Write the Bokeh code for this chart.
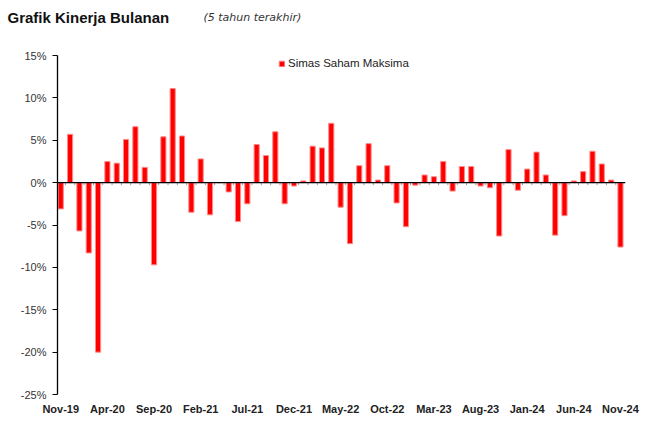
from bokeh.plotting import figure
from bokeh.layouts import column
from bokeh.models import (Range1d, FixedTicker, PrintfTickFormatter, Span,
                          Legend, LegendItem, ColumnDataSource)
from bokeh.core.properties import value
from bokeh.embed import file_html
from bokeh.resources import INLINE

months = ["Nov-19", "Dec-19",
          "Jan-20", "Feb-20", "Mar-20", "Apr-20", "May-20", "Jun-20", "Jul-20", "Aug-20", "Sep-20", "Oct-20", "Nov-20", "Dec-20",
          "Jan-21", "Feb-21", "Mar-21", "Apr-21", "May-21", "Jun-21", "Jul-21", "Aug-21", "Sep-21", "Oct-21", "Nov-21", "Dec-21",
          "Jan-22", "Feb-22", "Mar-22", "Apr-22", "May-22", "Jun-22", "Jul-22", "Aug-22", "Sep-22", "Oct-22", "Nov-22", "Dec-22",
          "Jan-23", "Feb-23", "Mar-23", "Apr-23", "May-23", "Jun-23", "Jul-23", "Aug-23", "Sep-23", "Oct-23", "Nov-23", "Dec-23",
          "Jan-24", "Feb-24", "Mar-24", "Apr-24", "May-24", "Jun-24", "Jul-24", "Aug-24", "Sep-24", "Oct-24", "Nov-24"]

returns = [-3.1, 5.7,
           -5.7, -8.3, -20.0, 2.5, 2.3, 5.1, 6.6, 1.8, -9.7, 5.4, 11.1, 5.5,
           -3.5, 2.8, -3.8, 0.0, -1.1, -4.6, -2.5, 4.5, 3.2, 6.0, -2.5, -0.4,
           0.2, 4.3, 4.1, 7.0, -2.9, -7.2, 2.0, 4.6, 0.3, 2.0, -2.4, -5.2,
           -0.3, 0.9, 0.7, 2.5, -1.0, 1.9, 1.9, -0.4, -0.6, -6.3, 3.9, -0.9,
           1.6, 3.6, 0.9, -6.2, -3.9, 0.2, 1.3, 3.7, 2.2, 0.3, -7.6]

tick_labels = ["Nov-19", "Apr-20", "Sep-20", "Feb-21", "Jul-21", "Dec-21", "May-22",
               "Oct-22", "Mar-23", "Aug-23", "Jan-24", "Jun-24", "Nov-24"]
y_ticks = [-25, -20, -15, -10, -5, 0, 5, 10, 15]

series_name = "Simas Saham Maksima"
title_text = "Grafik Kinerja Bulanan"
subtitle_text = "(5 tahun terakhir)"

W = 640
HEAD_H = 30

# ---- header (title + subtitle) ----
head = figure(width=W, height=HEAD_H, output_backend="svg", toolbar_location=None,
              x_range=Range1d(0, W), y_range=Range1d(HEAD_H, 0),
              x_axis_type=None, y_axis_type=None,
              min_border=0, min_border_left=0, min_border_right=0,
              min_border_top=0, min_border_bottom=0)
head.frame_align = False
head.outline_line_color = None
head.xgrid.visible = False
head.ygrid.visible = False
head.text(x=[7], y=[17], text=[title_text], text_font=value("Liberation Sans"),
          text_font_style="bold", text_font_size="15px", text_color="#111111",
          text_baseline="alphabetic", text_align="left")
head.text(x=[203], y=[17], text=[subtitle_text], text_font=value("DejaVu Sans"),
          text_font_style="italic", text_font_size="11px", text_color="#333333",
          text_baseline="alphabetic", text_align="left")

# ---- main chart ----
idx = list(range(len(months)))
src = ColumnDataSource(dict(x=idx, y=returns, m=months))

p = figure(width=W, height=423 - HEAD_H, output_backend="svg", toolbar_location=None,
           x_range=Range1d(-0.35, len(months) - 0.46), y_range=Range1d(min(y_ticks), max(y_ticks)),
           min_border_left=57, min_border_right=15, min_border_top=55 - HEAD_H, min_border_bottom=29)
p.frame_align = False
p.outline_line_color = None
p.background_fill_color = "white"
p.border_fill_color = "white"
p.xgrid.visible = False
p.ygrid.visible = False

bars = p.vbar(x="x", top="y", bottom=0, width=0.55, source=src,
              fill_color="#FF0000", line_color="#FF8A8A", line_width=1)

# y axis
p.yaxis.ticker = FixedTicker(ticks=y_ticks)
p.yaxis.formatter = PrintfTickFormatter(format="%d%%")
p.yaxis.axis_line_color = "black"
p.yaxis.axis_line_width = 1.3
p.yaxis.major_tick_line_color = "black"
p.yaxis.major_tick_in = 0
p.yaxis.major_tick_out = 5
p.yaxis.minor_tick_line_color = None
p.yaxis.major_label_standoff = 6
p.yaxis.major_label_text_font = "Liberation Sans"
p.yaxis.major_label_text_font_size = "11px"
p.yaxis.major_label_text_color = "#333333"

# x axis (labels only)
tick_idx = [months.index(t) for t in tick_labels]
p.xaxis.ticker = FixedTicker(ticks=tick_idx)
p.xaxis.major_label_overrides = {i: months[i] for i in tick_idx}
p.xaxis.axis_line_color = None
p.xaxis.major_tick_line_color = None
p.xaxis.minor_tick_line_color = None
p.xaxis.major_label_standoff = 2
p.xaxis.major_label_text_font = "Liberation Sans"
p.xaxis.major_label_text_font_style = "bold"
p.xaxis.major_label_text_font_size = "11px"
p.xaxis.major_label_text_color = "#222222"

# zero line with small category ticks
bounds = [i + 0.5 for i in idx[:-1]]
p.segment(x0=bounds, y0=[0] * len(bounds), x1=bounds, y1=[-0.3] * len(bounds),
          line_color="#999999", line_width=1)
p.add_layout(Span(location=0, dimension="width", line_color="black", line_width=1.3))

# legend
legend = Legend(items=[LegendItem(label=series_name, renderers=[bars])],
                location=(221, 325), orientation="horizontal",
                glyph_width=7, glyph_height=7, label_standoff=3,
                label_height=12, label_width=10, padding=0, margin=0, spacing=0,
                border_line_alpha=0, background_fill_alpha=0,
                label_text_font="Liberation Sans", label_text_font_size="11.5px",
                label_text_color="#222222")
p.add_layout(legend, "center")

layout = column(head, p, spacing=0)
open("out.html", "w").write(file_html(layout, INLINE))
